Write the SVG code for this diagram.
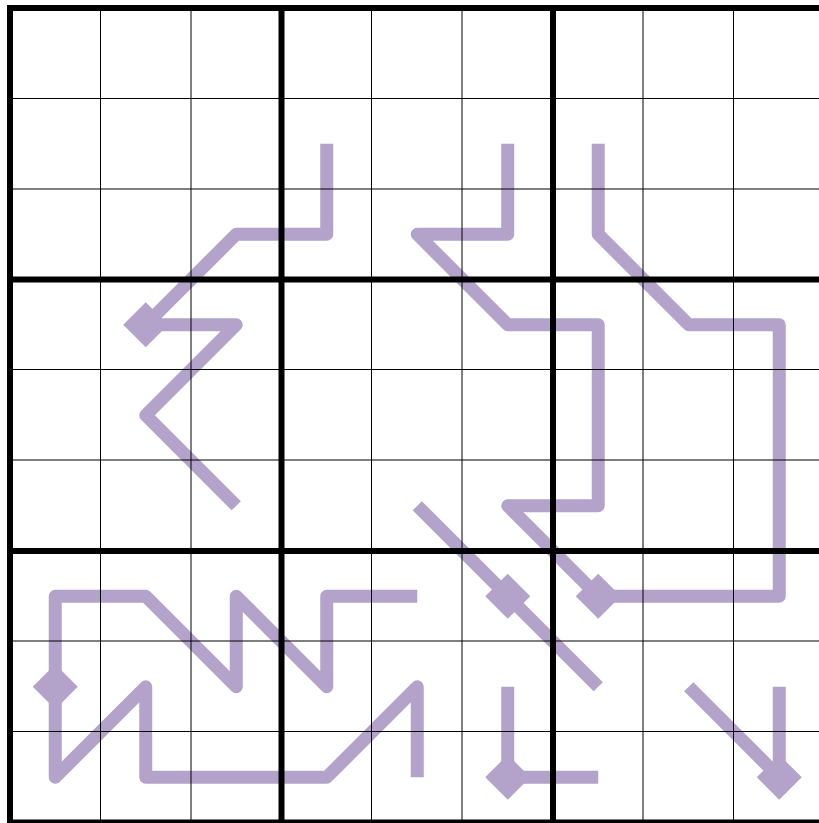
<svg xmlns="http://www.w3.org/2000/svg" xmlns:xlink="http://www.w3.org/1999/xlink" width="819" height="823" viewBox="0 0 819 823">
<style>
.ln{fill:none;stroke:#b3a2c9;stroke-width:13;stroke-linejoin:round;stroke-linecap:butt}
.dm{fill:#b3a2c9}
.thin{stroke:#000;stroke-width:1}
.thick{stroke:#000;stroke-width:6;stroke-linecap:square}
</style>
<defs>
<path id="dia" class="dm" d="M0,-22.5 L22.5,0 L0,22.5 L-22.5,0Z"/>
</defs>
<rect width="819" height="823" fill="#fff"/>
<g id="connectors">
<polyline class="ln" points="326.75,143.75 326.75,234.25 236.25,234.25 145.75,324.75 236.25,324.75 145.75,415.25 236.25,505.75"/>
<polyline class="ln" points="507.75,143.75 507.75,234.25 417.25,234.25 507.75,324.75 598.25,324.75 598.25,505.75 507.75,505.75 598.25,596.25"/>
<polyline class="ln" points="598.25,143.75 598.25,234.25 688.75,324.75 779.25,324.75 779.25,596.25 598.25,596.25"/>
<polyline class="ln" points="417.25,505.75 507.75,596.25 598.25,686.75"/>
<polyline class="ln" points="417.25,596.25 326.75,596.25 326.75,686.75 236.25,596.25 236.25,686.75 145.75,596.25 55.25,596.25 55.25,686.75 55.25,777.25 145.75,686.75 145.75,777.25 326.75,777.25 417.25,686.75 417.25,777.25"/>
<polyline class="ln" points="507.75,686.75 507.75,777.25 598.25,777.25"/>
<polyline class="ln" points="688.75,686.75 779.25,777.25"/>
<polyline class="ln" points="779.25,686.75 779.25,777.25"/>
</g>
<g id="diamonds">
<use xlink:href="#dia" x="145.75" y="324.75"/>
<use xlink:href="#dia" x="598.25" y="596.25"/>
<use xlink:href="#dia" x="507.75" y="596.25"/>
<use xlink:href="#dia" x="55.25" y="686.75"/>
<use xlink:href="#dia" x="507.75" y="777.25"/>
<use xlink:href="#dia" x="779.25" y="777.25"/>
</g>
<g id="grid">
<g class="thin">
<line x1="10" y1="98.5" x2="824.5" y2="98.5"/>
<line x1="10" y1="189" x2="824.5" y2="189"/>
<line x1="10" y1="369.5" x2="824.5" y2="369.5"/>
<line x1="10" y1="460" x2="824.5" y2="460"/>
<line x1="10" y1="641" x2="824.5" y2="641"/>
<line x1="10" y1="731.5" x2="824.5" y2="731.5"/>
<line x1="100.5" y1="8" x2="100.5" y2="822.5"/>
<line x1="191" y1="8" x2="191" y2="822.5"/>
<line x1="371.5" y1="8" x2="371.5" y2="822.5"/>
<line x1="462" y1="8" x2="462" y2="822.5"/>
<line x1="643" y1="8" x2="643" y2="822.5"/>
<line x1="733.5" y1="8" x2="733.5" y2="822.5"/>
</g>
<g class="thick">
<line x1="10" y1="8" x2="824.5" y2="8"/>
<line x1="10" y1="279.5" x2="824.5" y2="279.5"/>
<line x1="10" y1="551" x2="824.5" y2="551"/>
<line x1="10" y1="822.5" x2="824.5" y2="822.5"/>
<line x1="10" y1="8" x2="10" y2="822.5"/>
<line x1="281.5" y1="8" x2="281.5" y2="822.5"/>
<line x1="553" y1="8" x2="553" y2="822.5"/>
<line x1="824.5" y1="8" x2="824.5" y2="822.5"/>
</g>
</g>
</svg>
